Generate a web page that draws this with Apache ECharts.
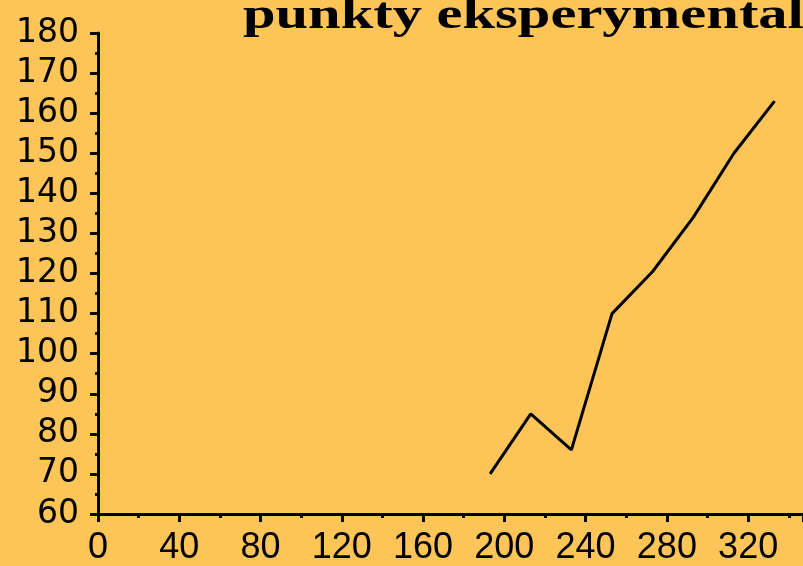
<!DOCTYPE html>
<html>
<head>
<meta charset="utf-8">
<script src="https://cdn.jsdelivr.net/npm/echarts@6/dist/echarts.min.js"></script>
<style>
  html, body { margin: 0; padding: 0; background: #fdc457; }
  #chart { width: 803px; height: 566px; }
</style>
</head>
<body>
<div id="chart"></div>
<script>
// Measured points: x values and response on y
const xValues = [193, 213, 233, 253, 273, 293, 313, 333];
const yValues = [70, 85, 76, 110, 120.5, 134, 150, 163];
const titleText = 'punkty eksperymentalne';

const xMin = 0, xMax = 347, xStep = 40;
const yMin = 60, yMax = 180, yStep = 10;

const points = xValues.map((x, i) => [x, yValues[i]]);

const chart = echarts.init(document.getElementById('chart'));

const axisLine = { show: true, onZero: false, lineStyle: { color: '#000', width: 3 } };

chart.setOption({
  backgroundColor: '#fdc457',
  animation: false,
  grid: { left: 98, top: 33, bottom: 48, right: 0, containLabel: false },
  graphic: [{
    type: 'text',
    x: 243,
    y: -5,
    scaleX: 1.33,
    style: {
      text: titleText,
      font: 'bold 44px "Liberation Serif", "Times New Roman", serif',
      fill: '#000',
      verticalAlign: 'top'
    }
  }],
  xAxis: {
    type: 'value',
    min: xMin, max: xMax, interval: xStep,
    axisLine: axisLine,
    axisTick: { show: true, inside: false, length: 8, lineStyle: { color: '#000', width: 3 } },
    minorTick: { show: true, splitNumber: 2, length: 4, lineStyle: { color: '#000', width: 3 } },
    splitLine: { show: false },
    axisLabel: {
      margin: 16,
      color: '#000',
      fontFamily: '"Liberation Sans", Arial, sans-serif',
      fontSize: 36,
      showMaxLabel: false
    }
  },
  yAxis: {
    type: 'value',
    min: yMin, max: yMax, interval: yStep,
    axisLine: axisLine,
    axisTick: { show: true, inside: false, length: 8, lineStyle: { color: '#000', width: 3 } },
    minorTick: { show: true, splitNumber: 2, length: 3, lineStyle: { color: '#000', width: 3 } },
    splitLine: { show: false },
    axisLabel: {
      margin: 19,
      color: '#000',
      fontFamily: '"DejaVu Sans", sans-serif',
      fontSize: 33
    }
  },
  series: [{
    type: 'line',
    data: points,
    showSymbol: false,
    lineStyle: { color: '#000', width: 3 },
    silent: true
  }]
});
</script>
</body>
</html>
